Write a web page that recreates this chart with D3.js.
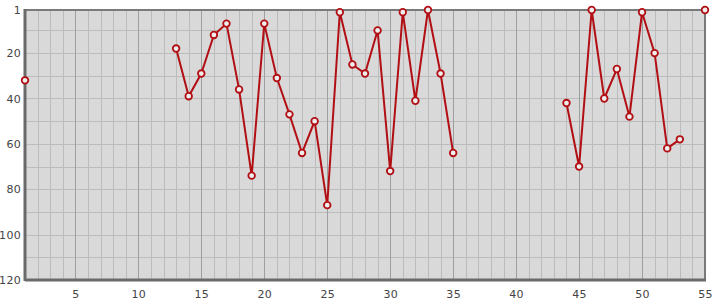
<!DOCTYPE html>
<html>
<head>
<meta charset="utf-8">
<script src="https://cdn.jsdelivr.net/npm/d3@7"></script>
<style>
  body { margin: 0; background: #fff; }
  svg text { font-family: "DejaVu Sans", sans-serif; font-size: 11px; fill: #444; letter-spacing: 0.3px; }
</style>
</head>
<body>
<div id="container"></div>
<script>
// rank per position, null where there is no value
const positions = d3.range(1, 56);
const ranks = [
  32, null, null, null, null, null, null, null, null, null, null, null,
  18, 39, 29, 12, 7, 36, 74, 7, 31, 47, 64, 50, 87, 2, 25, 29, 10, 72,
  2, 41, 1, 29, 64,
  null, null, null, null, null, null, null, null,
  42, 70, 1, 40, 27, 48, 2, 20, 62, 58, null, 1
];
const xTicks = [5, 10, 15, 20, 25, 30, 35, 40, 45, 50, 55];
const yTicks = [1, 20, 40, 60, 80, 100, 120];

const width = 715, height = 300;
const margin = {top: 10, right: 10, bottom: 20, left: 25};
const w = width - margin.left - margin.right;
const h = height - margin.top - margin.bottom;

const data = positions.map((p, i) => ({x: p, y: ranks[i]}));

const x = d3.scaleLinear().domain([1, 55]).range([0, w]);
const y = d3.scaleLinear().domain([1, 120]).range([0, h]);

const svg = d3.select('#container').append('svg')
    .attr('width', width)
    .attr('height', height);

const g = svg.append('g').attr('transform', `translate(${margin.left},${margin.top})`);

g.append('rect')
    .attr('width', w)
    .attr('height', h)
    .attr('fill', '#d9d9d9');

// grid
g.selectAll('.hgrid')
    .data(d3.range(10, 120, 10))
    .enter()
    .append('line')
    .attr('x1', 0).attr('x2', w)
    .attr('y1', d => Math.round(y(d)) + 0.5)
    .attr('y2', d => Math.round(y(d)) + 0.5)
    .attr('stroke', '#bcbcbc');

g.selectAll('.vgrid')
    .data(d3.range(2, 55))
    .enter()
    .append('line')
    .attr('y1', 0).attr('y2', h)
    .attr('x1', d => Math.round(x(d)) + 0.5)
    .attr('x2', d => Math.round(x(d)) + 0.5)
    .attr('stroke', d => d % 5 === 0 ? '#9e9e9e' : '#bcbcbc');

// frame
g.append('line').attr('x1', 0).attr('x2', w).attr('y1', 0).attr('y2', 0)
    .attr('stroke', '#7a7a7a').attr('stroke-width', 2);
g.append('line').attr('x1', w).attr('x2', w).attr('y1', 0).attr('y2', h)
    .attr('stroke', '#7a7a7a').attr('stroke-width', 2);
g.append('line').attr('x1', 0).attr('x2', 0).attr('y1', -1).attr('y2', h + 1)
    .attr('stroke', '#6a6a6a').attr('stroke-width', 3);
g.append('line').attr('x1', 0).attr('x2', w + 1).attr('y1', h).attr('y2', h)
    .attr('stroke', '#6a6a6a').attr('stroke-width', 3);

// axes
const xAxis = d3.axisBottom(x).tickValues(xTicks).tickSize(0).tickPadding(10);
const yAxis = d3.axisLeft(y).tickValues(yTicks).tickSize(0).tickPadding(4);

g.append('g').attr('transform', `translate(0,${h})`).call(xAxis)
    .call(s => s.select('.domain').remove());
g.append('g').call(yAxis)
    .call(s => s.select('.domain').remove());

// series
const line = d3.line()
    .defined(d => d.y !== null)
    .x(d => x(d.x))
    .y(d => y(d.y));

g.append('path')
    .datum(data)
    .attr('d', line)
    .attr('fill', 'none')
    .attr('stroke', '#b20f14')
    .attr('stroke-width', 2);

g.selectAll('.dot')
    .data(data.filter(d => d.y !== null))
    .enter()
    .append('circle')
    .attr('cx', d => x(d.x))
    .attr('cy', d => y(d.y))
    .attr('r', 3.3)
    .attr('fill', '#eeeeee')
    .attr('stroke', '#b20f14')
    .attr('stroke-width', 1.8);
</script>
</body>
</html>
